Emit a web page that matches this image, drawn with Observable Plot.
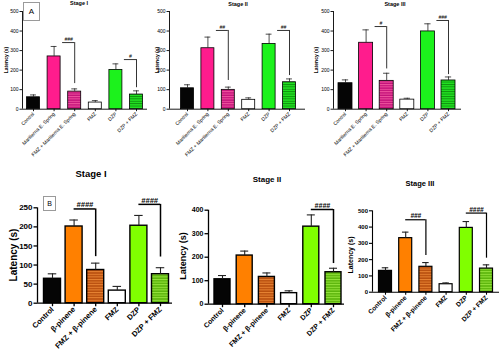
<!DOCTYPE html>
<html><head><meta charset="utf-8">
<script src="https://cdn.jsdelivr.net/npm/d3@7"></script>
<script src="https://cdn.jsdelivr.net/npm/@observablehq/plot@0.6"></script>
<style>
body{margin:0;background:#fff;}
#root{position:relative;width:500px;height:352px;overflow:hidden;font-family:"Liberation Sans",Arial,sans-serif;color:#000;}
.panel{position:absolute;}
.t{position:absolute;font-weight:bold;white-space:nowrap;transform:translate(-50%,-50%);line-height:1;}
.yl{position:absolute;white-space:nowrap;transform:translate(-50%,-50%) rotate(-90deg);line-height:1;}
.box{position:absolute;border:1px solid #9a9a9a;background:#fff;display:flex;align-items:center;justify-content:center;box-sizing:border-box;}
</style></head>
<body>
<svg width="0" height="0" style="position:absolute">
<defs>
<pattern id="stA" patternUnits="userSpaceOnUse" width="6" height="2.4"><rect width="6" height="2.4" fill="#c4127a"/><rect width="6" height="1" fill="#f0559f"/></pattern>
<pattern id="stAG" patternUnits="userSpaceOnUse" width="6" height="2.4"><rect width="6" height="2.4" fill="#22e022"/><rect width="6" height="0.9" fill="#0d8f0d"/></pattern>
<pattern id="stB" patternUnits="userSpaceOnUse" width="6" height="2.6"><rect width="6" height="2.6" fill="#b9500f"/><rect width="6" height="1" fill="#e88434"/></pattern>
<pattern id="stBG" patternUnits="userSpaceOnUse" width="6" height="2.6"><rect width="6" height="2.6" fill="#5cb50c"/><rect width="6" height="1" fill="#97e43e"/></pattern>
</defs></svg>
<div id="root"></div>
<script>
// ---------- data ----------
const groupsA = ["Control","Marilierna E. Spring","FMZ + Marilierna E. Spring","FMZ","DZP","DZP + FMZ"];
const groupsB = ["Control","β-pinene","FMZ + β-pinene","FMZ","DZP","DZP + FMZ"];
const stageTitles = ["Stage I","Stage II","Stage III"];
const yTitle = "Latency (s)";

const a1Mean = [61,270,90,34,201,75],   a1Err = [12,51,14,10,31,19];
const a2Mean = [107,312,99,48,334,138], a2Err = [18,57,14,10,50,17];
const a3Mean = [133,340,145,49,398,147],a3Err = [17,66,39,7,39,18];
const b1Mean = [64,201,87,33,203,76],   b1Err = [13,17,18,11,27,17];
const b2Mean = [106,207,116,47,330,136],b2Err = [16,19,17,10,50,17];
const b3Mean = [131,332,156,49,395,145],b3Err = [19,37,26,8,39,23];

const a1BrFrom=[1,4], a1BrTo=[2,5], a1BrLevel=[341,254], a1BrDrop=[131,110], a1BrLabel=["###","#"];
const a2BrFrom=[1,4], a2BrTo=[2,5], a2BrLevel=[403,403], a2BrDrop=[147,172], a2BrLabel=["##","##"];
const a3BrFrom=[1,4], a3BrTo=[2,5], a3BrLevel=[423,454], a3BrDrop=[206,177], a3BrLabel=["#","###"];
const b1BrFrom=[1,4], b1BrTo=[2,5], b1BrLevel=[247,259], b1BrDrop=[122,121], b1BrLabel=["####","####"];
const b2BrFrom=[4],   b2BrTo=[5],   b2BrLevel=[403],     b2BrDrop=[173],     b2BrLabel=["####"];
const b3BrFrom=[1,4], b3BrTo=[2,5], b3BrLevel=[445,486], b3BrDrop=[225,209], b3BrLabel=["###","####"];

const ticksA = [0,100,200,300,400,500];
const ticksB1 = [0,50,100,150,200,250];
const ticksB2 = [0,100,200,300,400];
const ticksB3 = [0,100,200,300,400,500];

// ---------- styles / layout ----------
const fillsA = ["#050505","#ff1c8d","url(#stA)","#ffffff","#1cf21c","url(#stAG)"];
const fillsB = ["#050505","#ff8000","url(#stB)","#ffffff","#80ff00","url(#stBG)"];
const styleA = {fs:5, xfs:5, fw:"normal", tick:2.5, tickPad:1.5, aw:0.9, sw:0.8, ew:0.8, bsw:0.8, cap:0.45, brEdge:true, brGap:2, brFs:5};
const styleB1 = {fs:8, xfs:7.5, fw:"bold", tick:3.5, tickPad:1.5, aw:1.3, sw:1.4, ew:1.1, bsw:1.5, cap:0.5, brEdge:false, brGap:0, brFs:7.5};
const styleB2 = {...styleB1, fs:7, xfs:7, brFs:7};
const styleB3 = {...styleB1, fs:6, xfs:6.5, tick:3, aw:1.1, sw:1.2, bsw:1.2, brFs:6.5};

const L_A1 = {...styleA, left:0,   top:0, w:150, h:170, r0:22,  r1:147, c0:33,  c5:136, bw:13, y0:108.7, yTop:11, yMax:500, yTicks:ticksA, fills:fillsA};
const L_A2 = {...styleA, left:155, top:0, w:155, h:170, r0:169, r1:305, c0:187, c5:289, bw:13, y0:108.7, yTop:11, yMax:500, yTicks:ticksA, fills:fillsA};
const L_A3 = {...styleA, left:315, top:0, w:185, h:170, r0:333, r1:461, c0:345, c5:448, bw:14, y0:108.7, yTop:11, yMax:500, yTicks:ticksA, fills:fillsA};
const L_B1 = {...styleB1, left:0,   top:188, w:180, h:164, r0:37,  r1:172, c0:52,  c5:160, bw:17, y0:302.7, yTop:207.3, yMax:250, yTicks:ticksB1, fills:fillsB};
const L_B2 = {...styleB2, left:185, top:188, w:165, h:164, r0:208, r1:344, c0:222, c5:333, bw:16, y0:303.7, yTop:209.7, yMax:400, yTicks:ticksB2, fills:fillsB};
const L_B3 = {...styleB3, left:350, top:188, w:150, h:164, r0:372, r1:499, c0:385, c5:486, bw:13, y0:291.7, yTop:210.3, yMax:500, yTicks:ticksB3, fills:fillsB};

const root = document.getElementById("root");

function panel(L, d) {
  const n = d.groups.length;
  const step = (L.c5 - L.c0) / (n - 1);
  const xd = [(L.r0 - L.c0) / step, (L.r1 - L.c0) / step];
  const hw = L.bw / 2 / step;
  const rows = d.groups.map((g, i) => ({i, m: d.mean[i], e: d.err[i], f: L.fills[i]}));
  const gap = L.brGap / step;
  const br = d.brFrom.map((f, k) => {
    const x1 = L.brEdge ? f + hw + gap : f;
    const x2 = d.brTo[k];
    return {x1, x2, xm: (x1 + x2) / 2, y: d.brLevel[k], drop: d.brDrop[k], label: d.brLabel[k]};
  });
  const svg = Plot.plot({
    width: L.w, height: L.h,
    marginLeft: L.r0 - L.left, marginRight: L.left + L.w - L.r1,
    marginTop: L.yTop - L.top, marginBottom: L.top + L.h - L.y0,
    style: {background: "none", overflow: "visible", fontFamily: "'Liberation Sans', Arial, sans-serif", color: "#000"},
    x: {type: "linear", domain: xd, label: null},
    y: {domain: [0, L.yMax], label: null},
    marks: [
      Plot.axisY({ticks: L.yTicks, tickSize: L.tick, tickPadding: L.tickPad, fontSize: L.fs, fontWeight: L.fw, label: null, strokeWidth: L.aw}),
      Plot.axisX({ticks: d3.range(n), tickFormat: i => d.groups[i], tickRotate: -45, tickSize: L.tick, tickPadding: L.tickPad, fontSize: L.xfs, fontWeight: L.fw, label: null, strokeWidth: L.aw}),
      Plot.ruleY([0], {strokeWidth: L.aw}),
      Plot.ruleX([xd[0]], {y1: 0, y2: L.yMax, strokeWidth: L.aw}),
      Plot.rect(rows, {x1: r => r.i - hw, x2: r => r.i + hw, y1: 0, y2: "m", fill: {value: "f", scale: null}, stroke: "#000", strokeWidth: L.sw}),
      Plot.ruleX(rows, {x: "i", y1: "m", y2: r => r.m + r.e, stroke: "#222", strokeWidth: L.ew}),
      Plot.ruleY(rows, {x1: r => r.i - hw * L.cap, x2: r => r.i + hw * L.cap, y: r => r.m + r.e, stroke: "#222", strokeWidth: L.ew}),
      Plot.ruleY(br, {x1: "x1", x2: "x2", y: "y", strokeWidth: L.bsw}),
      Plot.ruleX(br, {x: "x2", y1: "drop", y2: "y", strokeWidth: L.bsw}),
      Plot.text(br, {x: "xm", y: "y", text: "label", dy: -1.5, lineAnchor: "bottom", fontSize: L.brFs, fontWeight: L.fw, fontStyle: "italic"})
    ]
  });
  svg.classList.add("panel");
  svg.style.left = L.left + "px";
  svg.style.top = L.top + "px";
  root.appendChild(svg);
}

function mk(groups, mean, err, brFrom, brTo, brLevel, brDrop, brLabel) {
  return {groups, mean, err, brFrom, brTo, brLevel, brDrop, brLabel};
}

panel(L_A1, mk(groupsA, a1Mean, a1Err, a1BrFrom, a1BrTo, a1BrLevel, a1BrDrop, a1BrLabel));
panel(L_A2, mk(groupsA, a2Mean, a2Err, a2BrFrom, a2BrTo, a2BrLevel, a2BrDrop, a2BrLabel));
panel(L_A3, mk(groupsA, a3Mean, a3Err, a3BrFrom, a3BrTo, a3BrLevel, a3BrDrop, a3BrLabel));
panel(L_B1, mk(groupsB, b1Mean, b1Err, b1BrFrom, b1BrTo, b1BrLevel, b1BrDrop, b1BrLabel));
panel(L_B2, mk(groupsB, b2Mean, b2Err, b2BrFrom, b2BrTo, b2BrLevel, b2BrDrop, b2BrLabel));
panel(L_B3, mk(groupsB, b3Mean, b3Err, b3BrFrom, b3BrTo, b3BrLevel, b3BrDrop, b3BrLabel));

// ---------- text overlays ----------
function addText(cls, txt, x, y, size, weight) {
  const el = document.createElement("div");
  el.className = cls;
  el.textContent = txt;
  el.style.left = x + "px"; el.style.top = y + "px";
  el.style.fontSize = size + "px";
  if (weight) el.style.fontWeight = weight;
  root.appendChild(el);
}
addText("t", stageTitles[0], 79, 3.5, 5.5);
addText("t", stageTitles[1], 238, 5, 5.5);
addText("t", stageTitles[2], 395, 5, 5.5);
addText("t", stageTitles[0], 91, 174, 9.5);
addText("t", stageTitles[1], 267, 180, 8);
addText("t", stageTitles[2], 420, 184, 7.5);
addText("yl", yTitle, 6, 60, 5, "bold");
addText("yl", yTitle, 157, 60, 5, "bold");
addText("yl", yTitle, 316, 60, 5, "bold");
addText("yl", yTitle, 14, 255, 10, "bold");
addText("yl", yTitle, 183, 256, 9, "bold");
addText("yl", yTitle, 350, 255, 7, "bold");
function box(letter, x, y, w, h, size) {
  const el = document.createElement("div");
  el.className = "box";
  el.textContent = letter;
  Object.assign(el.style, {left: x + "px", top: y + "px", width: w + "px", height: h + "px", fontSize: size + "px"});
  root.appendChild(el);
}
box("A", 23, 2, 17, 19, 8);
box("B", 43, 196, 13, 15, 7);
</script>
</body></html>
